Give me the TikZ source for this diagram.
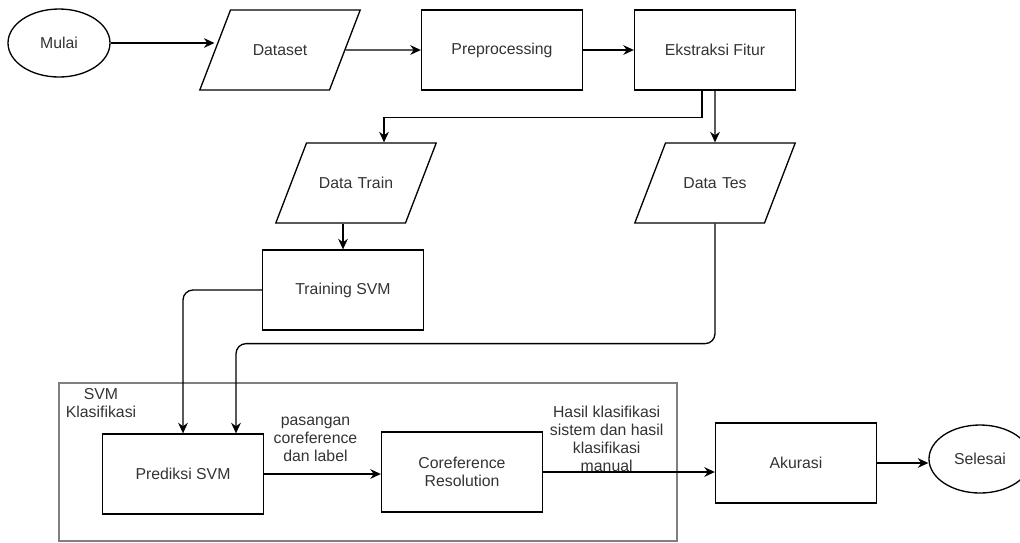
\documentclass[tikz,border=0pt]{standalone}
\usepackage{fontspec}
\setmainfont{Liberation Sans}
\usetikzlibrary{positioning, arrows.meta, shapes.geometric}
\definecolor{inkgray}{HTML}{333333}
\definecolor{framegray}{HTML}{808080}
\tikzset{
  flowchart/.style={
	>={Stealth[length=6pt,width=5.5pt]}, % filled arrow heads
	line width=0.75pt,
	node distance=4.4cm, % centre to centre distance for right of / below of
	font=\fontsize{9}{10.2}\selectfont,
	every node/.style={text=inkgray, inner sep=1pt},
  },
  terminal/.style={draw, ellipse, minimum width=2.04cm, minimum height=1.36cm},
  process/.style={draw, rectangle, align=center, minimum width=3.22cm, minimum height=1.6cm},
  io/.style={draw, trapezium, trapezium left angle=69, trapezium right angle=111,
	text width=1.98cm, align=center, text height=6.5pt, text depth=0pt,
	inner xsep=0pt, inner ysep=19.5pt},
  flow/.style={->},
  svmgroup/.style={draw=framegray, line width=1.1pt, minimum width=12.36cm, minimum height=3.16cm},
  edgelabel/.style={align=center},
}

\begin{document}
\begin{tikzpicture}[flowchart]
\useasboundingbox (0,0) rectangle (20.4,-10.84);

\node[terminal] (mulai) at (1.18,-0.86) {Mulai};
\node[io, right of=mulai, yshift=-0.14cm, xshift=0.02cm] (dataset) {Dataset};
\node[process, right of=dataset, yshift=0cm, xshift=0.04cm] (prep) {Preprocessing};
\node[process, right of=prep, yshift=0cm, xshift=-0.14cm] (fitur) {Ekstraksi Fitur};
\node[io, below of=fitur, yshift=1.74cm, xshift=0cm] (tes) {Data Tes};
\node[io, left of=tes, yshift=0cm, xshift=-2.78cm] (train) {Data Train};
\node[process, below of=train, yshift=2.26cm, xshift=-0.26cm] (trainsvm) {Training SVM};
\node[process, below of=trainsvm, yshift=0.72cm, xshift=-3.2cm] (prediksi) {Prediksi SVM};
\node[process, right of=prediksi, yshift=0.04cm, xshift=1.18cm] (coref) {Coreference\\Resolution};
\node[process, right of=coref, yshift=0.18cm, xshift=2.28cm] (akurasi) {Akurasi};
\node[terminal, right of=akurasi, yshift=0.08cm, xshift=-0.72cm] (selesai) {Selesai};

% container of the classification step
\node[svmgroup] (group) at ([xshift=3.7cm, yshift=0.24cm]prediksi) {};
\node[align=center] (grouplabel) at ([xshift=0.86cm, yshift=-0.42cm]group.north west) {SVM\\Klasifikasi};

\draw[flow] (mulai.east) -- (mulai.east -| dataset.west);
\draw[flow] (dataset) -- (prep);
\draw[flow] (prep) -- (fitur);
\draw[flow] ([xshift=-0.26cm]fitur.south) -- ++(0,-0.54) -| ([xshift=0.56cm]train.north);
\draw[flow] (fitur) -- (tes);
\draw[flow] (trainsvm.north |- train.south) -- (trainsvm.north);
\draw[flow, rounded corners=0.2cm] (trainsvm.west) -| (prediksi.north);
\draw[flow, rounded corners=0.2cm] (tes.south) -- ++(0,-2.4) -| ([xshift=1.06cm]prediksi.north);
\draw[flow] (prediksi.east) -- node[edgelabel, pos=0.44, above=0.2cm]{pasangan\\coreference\\dan label} (prediksi.east -| coref.west);
\draw[flow] (coref.east) -- node[edgelabel, pos=0.37, above, inner sep=0pt]{Hasil klasifikasi\\sistem dan hasil\\klasifikasi\\manual} (coref.east -| akurasi.west);
\draw[flow] (akurasi.east) -- (akurasi.east -| selesai.west);
\end{tikzpicture}
\end{document}
